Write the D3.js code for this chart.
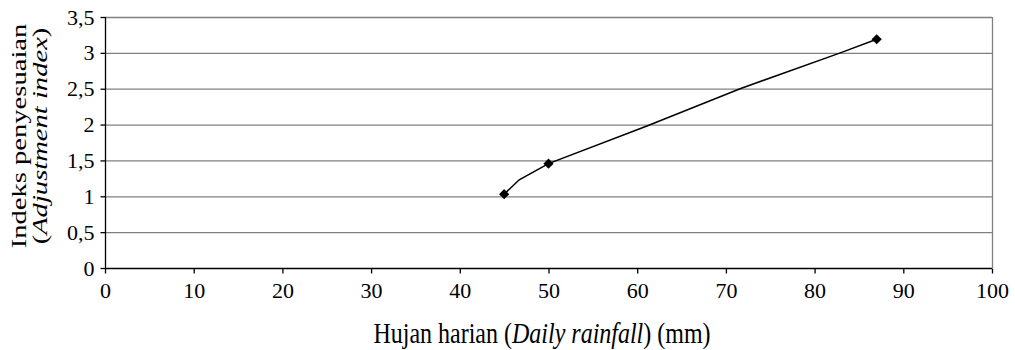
<!DOCTYPE html>
<html><head><meta charset="utf-8">
<script src="https://cdn.jsdelivr.net/npm/d3@7"></script>
<style>body{margin:0;background:#fff;} svg text{font-family:"Liberation Serif","Times New Roman",serif;fill:#000;}</style>
</head><body><svg id="c" width="1015" height="350"></svg>
<script>
const markerX = [45, 50, 87];
const markerY = [1.03, 1.455, 3.19];
const lineX = [45, 46.7, 50, 61.1, 71.6, 82.9, 87];
const lineY = [1.03, 1.23, 1.455, 1.98, 2.5, 3.0, 3.19];
const xTicks = [0,10,20,30,40,50,60,70,80,90,100];
const yTicks = [0,0.5,1,1.5,2,2.5,3,3.5];
const yTickLabels = ["0","0,5","1","1,5","2","2,5","3","3,5"];

const svg = d3.select("#c");
const L=105, R=992, T=17, B=268;
const x = d3.scaleLinear().domain([0,100]).range([L,R]);
const y = d3.scaleLinear().domain([0,3.5]).range([B,T]);
const fs = 22;

svg.append("g").selectAll("line").data(yTicks.slice(1)).join("line")
  .attr("x1",L).attr("x2",R).attr("y1",d=>y(d)+0.5).attr("y2",d=>y(d)+0.5)
  .attr("stroke","#808080").attr("stroke-width",1.3);
svg.append("line").attr("x1",R+0.5).attr("x2",R+0.5).attr("y1",T).attr("y2",B)
  .attr("stroke","#808080").attr("stroke-width",1.3);

const xAxis = svg.append("g").attr("transform",`translate(0,${B+0.5})`)
  .call(d3.axisBottom(x).tickValues(xTicks).tickSize(5).tickPadding(9).tickFormat(d=>d));
const yAxis = svg.append("g").attr("transform",`translate(${L+0.5},0)`)
  .call(d3.axisLeft(y).tickValues(yTicks).tickSize(5).tickPadding(6).tickFormat((d,i)=>yTickLabels[i]));
[xAxis,yAxis].forEach(g=>{
  g.attr("font-family",null).attr("font-size",null);
  g.select(".domain").attr("stroke","#000").attr("stroke-width",1.3);
  g.selectAll(".tick line").attr("stroke","#000").attr("stroke-width",1.3);
  g.selectAll("text").attr("font-size",fs).attr("fill","#000");
});
yAxis.select(".domain").attr("d",`M0,${B}V${T}`);
xAxis.select(".domain").attr("d",`M${L},0H${R}`);

const pts = lineX.map((v,i)=>[v,lineY[i]]);
svg.append("path").datum(pts)
  .attr("d",d3.line().x(d=>x(d[0])).y(d=>y(d[1])))
  .attr("fill","none").attr("stroke","#000").attr("stroke-width",1.5);
svg.append("g").selectAll("path").data(markerX.map((v,i)=>[v,markerY[i]])).join("path")
  .attr("d",d3.symbol().type(d3.symbolSquare).size(52))
  .attr("transform",d=>`translate(${x(d[0])},${y(d[1])}) rotate(45)`)
  .attr("fill","#000");

const xt = svg.append("text").attr("transform",`translate(542,343) scale(1,1.2)`).attr("text-anchor","middle").attr("font-size",24);
xt.append("tspan").text("Hujan harian (");
xt.append("tspan").attr("font-style","italic").text("Daily rainfall");
xt.append("tspan").text(") (mm)");

const cy = 136;
svg.append("text").attr("transform",`translate(26,${cy}) rotate(-90) scale(1.3,1)`).attr("text-anchor","middle").attr("font-size",22)
  .text("Indeks penyesuaian");
const yt2 = svg.append("text").attr("transform",`translate(47,${cy}) rotate(-90) scale(1.3,1)`).attr("text-anchor","middle").attr("font-size",22);
yt2.append("tspan").text("(");
yt2.append("tspan").attr("font-style","italic").text("Adjustment index");
yt2.append("tspan").text(")");
</script></body></html>
